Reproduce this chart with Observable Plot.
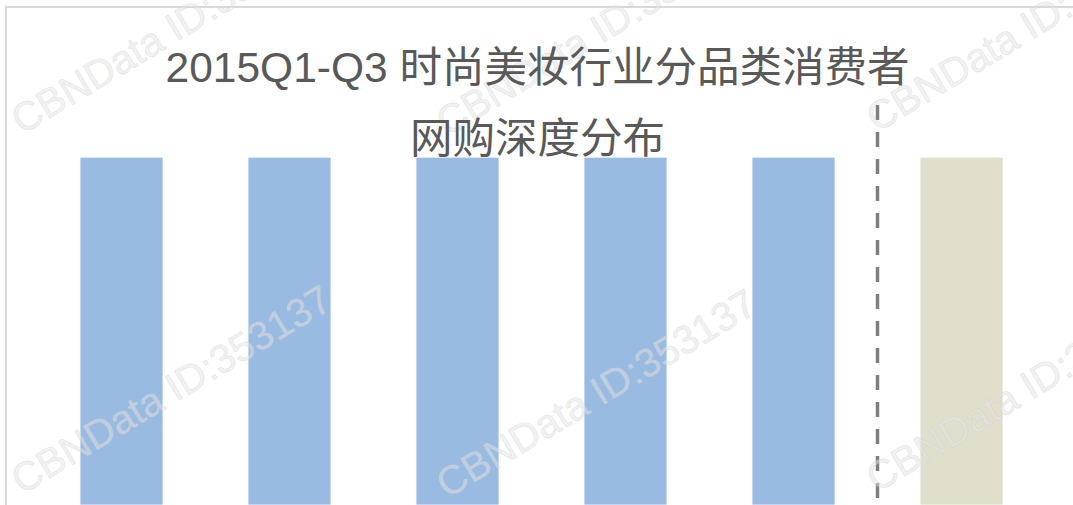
<!DOCTYPE html>
<html>
<head>
<meta charset="utf-8">
<script src="https://cdn.jsdelivr.net/npm/d3@7"></script>
<script src="https://cdn.jsdelivr.net/npm/@observablehq/plot@0.6"></script>
<style>
  html, body { margin: 0; padding: 0; background: #fff; overflow: hidden; }
  #wrap { position: relative; width: 1073px; height: 505px; overflow: hidden; }
  #frame { position: absolute; left: 5px; top: 6px; width: 1100px; height: 600px;
           border-left: 2px solid #d9d9d9; border-top: 2px solid #d9d9d9; }
  #chart { position: absolute; left: 0; top: 0; }
  #marks { position: absolute; left: 0; top: 0; pointer-events: none; }
  #title { position: absolute; left: 6px; width: 1067px; top: 0; pointer-events: none; }
</style>
</head>
<body>
<div id="wrap">
  <div id="frame"></div>
  <div id="chart"></div>
  <svg id="marks" width="1073" height="505"></svg>
  <svg id="title" width="1067" height="170"></svg>
</div>
<script>
// ---- data ----
const titleLines = ["2015Q1-Q3 时尚美妆行业分品类消费者", "网购深度分布"];
const categories = ["服饰", "鞋类", "箱包", "配饰", "美妆", "整体"];
const shares = [100, 100, 100, 100, 100, 100];
const groups = ["品类", "品类", "品类", "品类", "品类", "整体"];
const separatorBetween = ["美妆", "整体"];
const watermark = "CBNData ID:353137";

const data = categories.map((c, i) => ({category: c, share: shares[i], group: groups[i]}));

// separator as a function mark using the x band scale
function separator(index, scales, values, dimensions) {
  const x = scales.x;
  const a = x(separatorBetween[0]) + x.bandwidth();
  const b = x(separatorBetween[1]);
  const xp = (a + b) / 2;
  const line = document.createElementNS("http://www.w3.org/2000/svg", "line");
  line.setAttribute("x1", xp); line.setAttribute("x2", xp);
  line.setAttribute("y1", dimensions.marginTop);
  line.setAttribute("y2", dimensions.height - dimensions.marginBottom);
  line.setAttribute("stroke", "#7f7f7f");
  line.setAttribute("stroke-width", 3.5);
  line.setAttribute("stroke-dasharray", "15 12");
  return line;
}

const chart = Plot.plot({
  width: 1073,
  height: 505,
  marginLeft: 35.75,
  marginRight: 26.25,
  marginTop: 105,
  marginBottom: 0,
  style: {background: "transparent", overflow: "visible"},
  x: {type: "band", domain: categories, paddingInner: 0.507, paddingOuter: 0.2535, align: 0.5, axis: null},
  y: {domain: [0, 115], axis: null},
  color: {domain: ["品类", "整体"], range: ["#9abbe1", "#e1decb"]},
  marks: [
    Plot.barY(data, {x: "category", y: "share", fill: "group", stroke: "#ffffff", strokeWidth: 0.8}),
    separator
  ]
});
document.getElementById("chart").appendChild(chart);

// watermarks (decorative overlay)
const wmPos = [[22, 135], [447, 137], [877, 133], [22, 495], [447, 499], [877, 493]];
const marks = d3.select("#marks");
marks.selectAll("text").data(wmPos).join("text")
  .attr("transform", d => `translate(${d[0]},${d[1]}) rotate(-31)`)
  .attr("font-family", "'Liberation Sans', Arial, sans-serif")
  .attr("font-size", 40)
  .attr("fill", "rgba(228,228,228,0.5)")
  .attr("stroke", "rgba(205,205,205,0.4)")
  .attr("stroke-width", 0.7)
  .text(watermark);

// title
const t = d3.select("#title");
t.selectAll("text").data(titleLines).join("text")
  .attr("x", 1067 / 2 - 2)
  .attr("y", (d, i) => 82 + i * 71)
  .attr("text-anchor", "middle")
  .attr("font-family", "'Liberation Sans', Arial, 'Noto Sans CJK SC', sans-serif")
  .attr("font-size", 42.5)
  .attr("fill", "#595959")
  .text(d => d);
</script>
</body>
</html>
